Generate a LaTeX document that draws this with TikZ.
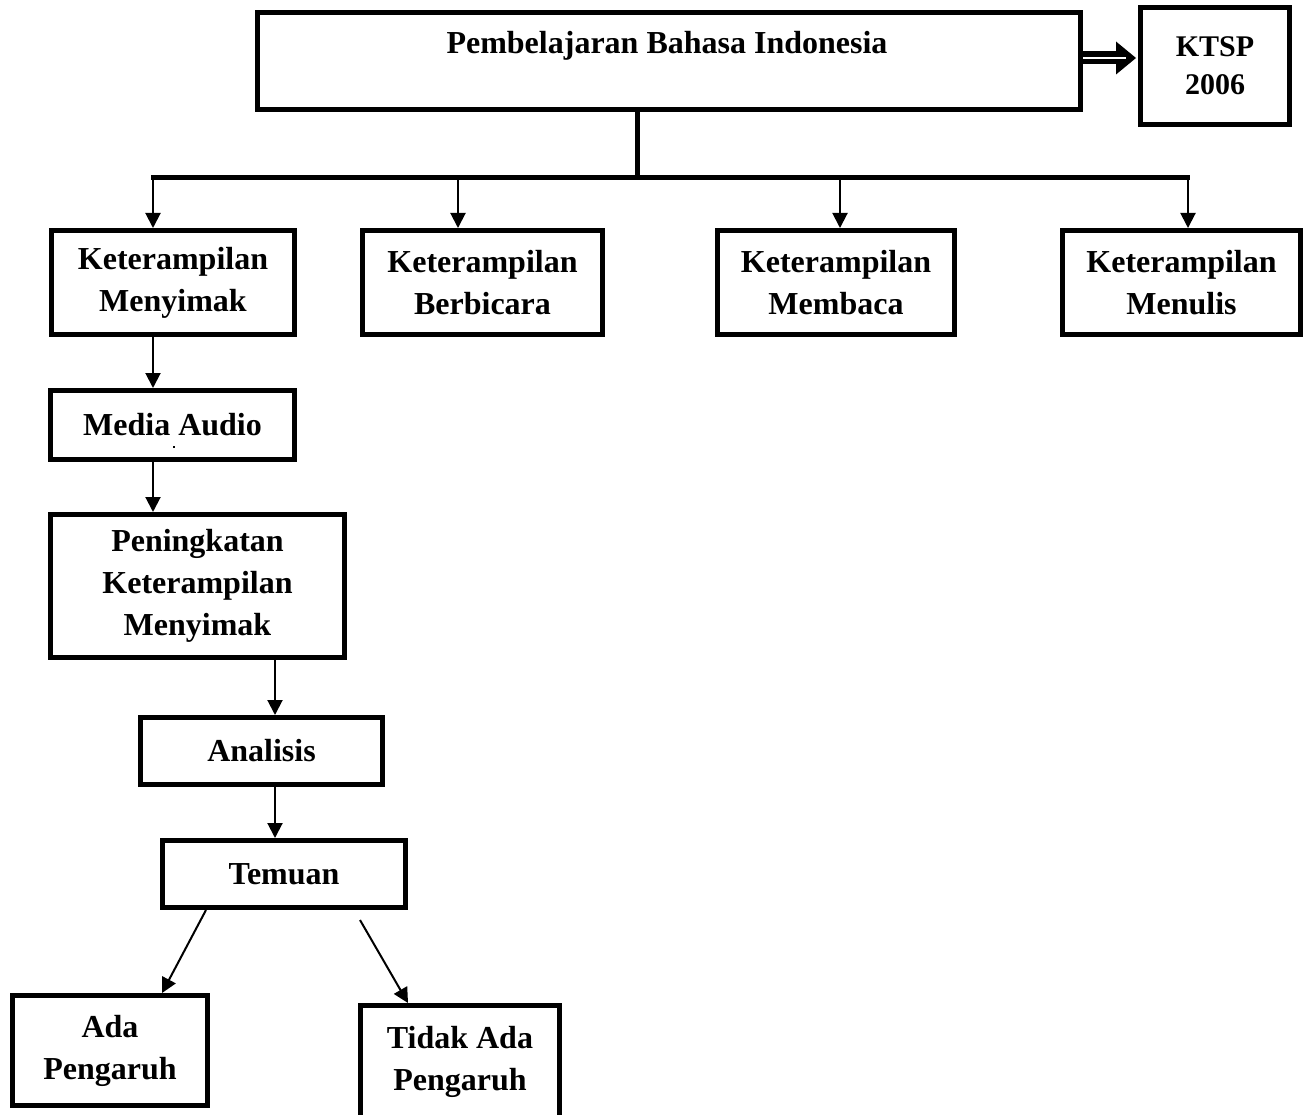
\documentclass[tikz,border=0pt]{standalone}
\usepackage{fontspec}
\setmainfont{Liberation Serif}
\usetikzlibrary{arrows.meta}
\begin{document}
\begin{tikzpicture}[x=1pt,y=-1pt,
  box/.style={draw, line width=5pt, fill=white, align=center, inner sep=0pt,
    font=\fontsize{32}{42}\selectfont\bfseries},
  txt/.style={align=center, inner sep=0pt, font=\fontsize{32}{42}\selectfont\bfseries},
  arr/.style={line width=2pt, -{Triangle[length=15pt,width=15pt]}},
  bus/.style={line width=5pt},
]
\useasboundingbox (0,0) rectangle (1305,1115);
\clip (0,0) rectangle (1305,1115);

% main and KTSP
\node[box, minimum width=823pt, minimum height=97pt] (main) at (669,61) {};
\node[txt] (maintitle) at (667,46) {Pembelajaran Bahasa Indonesia};
\node[box, minimum width=149pt, minimum height=117pt,
      font=\fontsize{30}{38}\selectfont\bfseries] (ktsp) at (1215,66) {KTSP\\2006};

% double arrow main -> KTSP
\coordinate (da) at ([yshift=3pt]main.east);
\coordinate (db) at ([yshift=8pt]ktsp.west);
\draw[line width=13pt] (da) -- ([xshift=-21pt]db);
\fill ([xshift=-22pt,yshift=16.5pt]db) -- ([xshift=-2pt]db) -- ([xshift=-22pt,yshift=-16.5pt]db) -- cycle;
\draw[white, line width=2.5pt] (da) -- ([xshift=-12pt]db);

% skills
\node[box, minimum width=243pt, minimum height=104pt] (b1) at (173,282.5) {Keterampilan\\Menyimak};
\node[box, minimum width=240pt, minimum height=104pt] (b2) at (482.5,282.5) {Keterampilan\\Berbicara};
\node[box, minimum width=237pt, minimum height=104pt] (b3) at (836,282.5) {Keterampilan\\Membaca};
\node[box, minimum width=238pt, minimum height=104pt] (b4) at (1181.5,282.5) {Keterampilan\\Menulis};

% bus
\coordinate (bj) at (637,178);
\coordinate (bl) at (151,178);
\coordinate (br) at (1190,178);
\coordinate (t1) at (153,178);
\coordinate (t2) at (458,178);
\coordinate (t3) at (840,178);
\coordinate (t4) at (1188,178);
\draw[bus] (main.south -| bj) -- (bj);
\draw[bus] (bl) -- (br);
\draw[arr] (t1) -- (t1 |- b1.north);
\draw[arr] (t2) -- (t2 |- b2.north);
\draw[arr] (t3) -- (t3 |- b3.north);
\draw[arr] (t4) -- (t4 |- b4.north);

% left chain
\node[box, minimum width=244pt, minimum height=69pt] (media) at (172.5,425) {Media Audio};
\node[rectangle, fill, inner sep=0pt, minimum size=2.6pt] (dot) at (174,447) {};
\node[box, minimum width=294pt, minimum height=143pt] (pen) at (197.5,586) {Peningkatan\\Keterampilan\\Menyimak};
\node[box, minimum width=242pt, minimum height=67pt] (anal) at (261.5,751) {Analisis};
\node[box, minimum width=243pt, minimum height=67pt] (tem) at (284,874) {Temuan};
\node[box, minimum width=195pt, minimum height=110pt] (ada) at (110,1050.5) {Ada\\Pengaruh};
\node[box, minimum width=199pt, minimum height=112pt] (tidak) at (460,1061.5) {Tidak Ada\\Pengaruh};

\coordinate (c1) at (153,0);
\coordinate (c2) at (275,0);
\draw[arr] (b1.south -| c1) -- (media.north -| c1);
\draw[arr] (media.south -| c1) -- (pen.north -| c1);
\draw[arr] (pen.south -| c2) -- (anal.north -| c2);
\draw[arr] (anal.south -| c2) -- (tem.north -| c2);
\draw[arr] ([xshift=46pt]tem.south west) -- ([xshift=52pt]ada.north);
\draw[arr] ([xshift=200pt,yshift=-10pt]tem.south west) -- ([xshift=-52pt]tidak.north);
\end{tikzpicture}
\end{document}
